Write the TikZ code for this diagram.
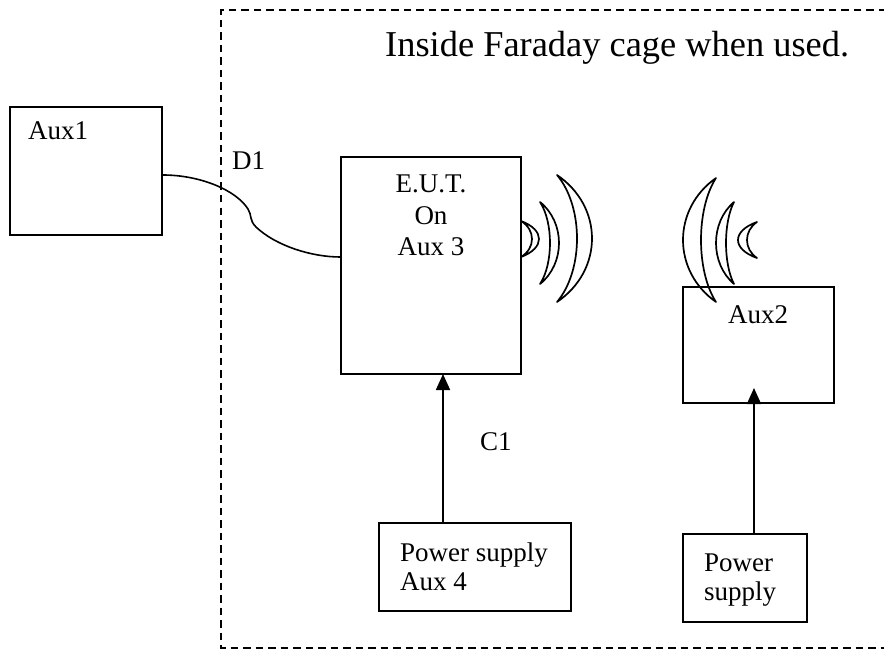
\documentclass[tikz,border=0pt]{standalone}
\usepackage{fontspec}
\setmainfont{Liberation Serif}
\usetikzlibrary{arrows.meta,calc}
\newcommand\wavecres[5]{%
  \draw[cres] (#1,#2)
    .. controls ({#1+4/3*#4},{#2+0.25*(#3-#2)}) and ({#1+4/3*#4},{#3-0.25*(#3-#2)}) .. (#1,#3)
    .. controls ({#1+4/3*#5},{#3-0.25*(#3-#2)}) and ({#1+4/3*#5},{#2+0.25*(#3-#2)}) .. cycle;}
\tikzset{
  box/.style={draw,line width=1.7pt,inner sep=0pt},
  txt/.style={anchor=base west,inner sep=0pt,font=\fontsize{27}{31}\selectfont},
  ctxt/.style={anchor=base,inner sep=0pt,font=\fontsize{27}{31}\selectfont},
  cres/.style={line width=1.7pt,line join=round},
  feed/.style={line width=1.7pt,-{Triangle[width=14pt,length=16pt]}},
  cage/.style={line width=1.6pt,dash pattern=on 7.5pt off 5pt}
}
\begin{document}
\begin{tikzpicture}[x=1pt,y=-1pt]
\useasboundingbox (0,0) rectangle (884,650);
% Faraday cage
\coordinate (cageTR) at (886,10);
\coordinate (cageTL) at (221,10);
\coordinate (cageBL) at (221,648);
\coordinate (cageBR) at (886,648);
\draw[cage] (cageTR) -- (cageTL) -- (cageBL) -- (cageBR);
\node[txt,font=\fontsize{36.4}{40}\selectfont] (title) at (385,57) {Inside Faraday cage when used.};
% boxes
\node[box,minimum width=152pt,minimum height=128pt] (aux1) at (86,171) {};
\node[txt] (aux1t) at (28,140) {Aux1};
\node[box,minimum width=180pt,minimum height=217pt] (eut) at (431,265.5) {};
\node[ctxt] (eut1) at (431,193) {E.U.T.};
\node[ctxt] (eut2) at (431,224) {On};
\node[ctxt] (eut3) at (431,255) {Aux 3};
\node[box,minimum width=151pt,minimum height=116pt] (aux2) at (758.5,345) {};
\node[ctxt] (aux2t) at (758,323) {Aux2};
\node[box,minimum width=192pt,minimum height=88pt] (ps1) at (475,567) {};
\node[txt] (ps1a) at (400,561) {Power supply};
\node[txt] (ps1b) at (400,590) {Aux 4};
\node[box,minimum width=124pt,minimum height=88pt] (ps2) at (745,578) {};
\node[txt] (ps2a) at (704,571) {Power};
\node[txt] (ps2b) at (704,600) {supply};
% labels
\node[txt] (d1) at (232,170) {D1};
\node[txt] (c1) at (480,450) {C1};
% cable D1
\coordinate (cabA) at (aux1.east |- 0,175);
\coordinate (cabB) at (eut.west |- 0,257);
\draw[line width=1.6pt] (cabA) .. controls (200,175) and (236,190) .. (248,209)
  .. controls (252,215) and (249,220) .. (256,227)
  .. controls (276,246) and (312,257) .. (cabB);
% power feeds
\coordinate (eutIn) at (443,374);
\draw[feed] (ps1.north -| eutIn) -- (eutIn);
\coordinate (aux2In) at (754,388);
\draw[feed] (ps2.north -| aux2In) -- (aux2In);
% radio waves
\wavecres{521}{221}{257}{18}{11}
\wavecres{540}{202}{284}{19}{10}
\wavecres{557}{175}{302}{35}{20}
\wavecres{716}{178}{302}{-33}{-15}
\wavecres{734}{202}{284}{-18}{-8}
\wavecres{757}{222}{258}{-19}{-10}
\end{tikzpicture}
\end{document}
